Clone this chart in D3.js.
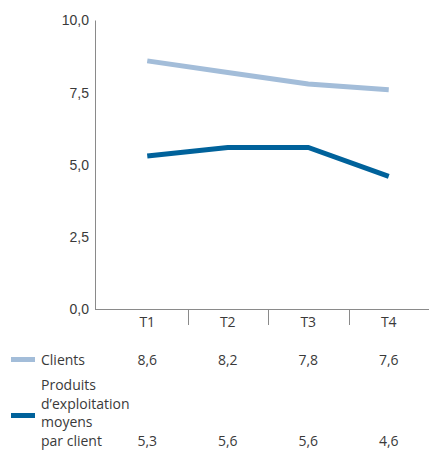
<!DOCTYPE html>
<html>
<head>
<meta charset="utf-8">
<script src="https://cdn.jsdelivr.net/npm/d3@7"></script>
<style>
  html, body { margin: 0; padding: 0; background: #fff; }
  svg { display: block; font-family: "Open Sans", "Noto Sans", sans-serif; }
</style>
</head>
<body>
<svg id="chart" width="429" height="450"></svg>
<script>
// Quarterly series
const quarters = ["T1", "T2", "T3", "T4"];
const clients = [8.6, 8.2, 7.8, 7.6];
const produits = [5.3, 5.6, 5.6, 4.6];
const yTicks = [0, 2.5, 5, 7.5, 10];
const seriesNames = ["Clients", ["Produits", "d’exploitation", "moyens", "par client"]];
const seriesColors = ["#a3bdd9", "#00629b"];

const svg = d3.select("#chart");
const fmt = v => d3.format(".1f")(v).replace(".", ",");
const txt = "#3a3a3a";
const axisColor = "#8a8a8a";
const fs = 14;

const axisX0 = 95, plotRight = 429;
const x = d3.scaleBand().domain(quarters).range([107, 429]).paddingInner(0).paddingOuter(0);
const y = d3.scaleLinear().domain([0, 10]).range([309, 20.5]);

// Y axis
const yAxis = d3.axisLeft(y).tickValues(yTicks).tickFormat(fmt).tickSize(0).tickPadding(6);
const gy = svg.append("g").attr("transform", `translate(${axisX0},0)`).call(yAxis);
gy.select(".domain").attr("stroke", axisColor).attr("d", `M0.5,${y(10)}V${y(0)}`);
gy.selectAll("text").attr("fill", txt).attr("font-size", fs).attr("font-family", null).attr("dy", "0.32em");

// X axis baseline with band separators
svg.append("line")
  .attr("x1", axisX0).attr("x2", plotRight)
  .attr("y1", y(0) + 0.5).attr("y2", y(0) + 0.5)
  .attr("stroke", axisColor);
quarters.slice(1).forEach(q => {
  svg.append("line")
    .attr("x1", Math.round(x(q)) + 0.5).attr("x2", Math.round(x(q)) + 0.5)
    .attr("y1", y(0)).attr("y2", y(0) + 16)
    .attr("stroke", axisColor);
});
svg.append("g").selectAll("text").data(quarters).join("text")
  .attr("x", d => x(d) + x.bandwidth() / 2)
  .attr("y", y(0) + 18)
  .attr("text-anchor", "middle")
  .attr("fill", txt).attr("font-size", fs)
  .text(d => d);

// Lines
const line = d3.line().x((d, i) => x(quarters[i]) + x.bandwidth() / 2).y(d => y(d));
[clients, produits].forEach((s, k) => {
  svg.append("path").datum(s)
    .attr("d", line)
    .attr("fill", "none")
    .attr("stroke", seriesColors[k])
    .attr("stroke-width", 5);
});

// Data table under the chart
const rows = [
  { name: seriesNames[0], values: clients, valueY: 360, swatchY: 359.5 },
  { name: seriesNames[1], values: produits, valueY: 441, swatchY: 415.5 }
];
rows.forEach((r, k) => {
  svg.append("rect")
    .attr("x", 11).attr("y", r.swatchY - 2.5)
    .attr("width", 24).attr("height", 5)
    .attr("fill", seriesColors[k]);
  const lines = Array.isArray(r.name) ? r.name : [r.name];
  const t = svg.append("text")
    .attr("x", 41).attr("fill", txt).attr("font-size", fs);
  lines.forEach((l, i) => {
    t.append("tspan").attr("x", 41)
      .attr("y", r.valueY - (lines.length - 1 - i) * 18.5)
      .attr("dy", "0.35em")
      .text(l);
  });
  svg.append("g").selectAll("text").data(r.values).join("text")
    .attr("x", (d, i) => x(quarters[i]) + x.bandwidth() / 2)
    .attr("y", r.valueY)
    .attr("dy", "0.35em")
    .attr("text-anchor", "middle")
    .attr("fill", txt).attr("font-size", fs)
    .text(fmt);
});
</script>
</body>
</html>
